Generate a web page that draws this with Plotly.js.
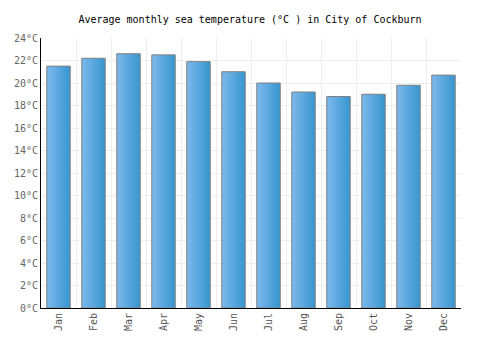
<!DOCTYPE html>
<html><head><meta charset="utf-8">
<script src="https://cdn.plot.ly/plotly-3.0.1.min.js"></script>
<style>html,body{margin:0;padding:0;background:#fff}#c{width:500px;height:350px}</style>
</head><body><div id="c"></div>
<script>
const months = ["Jan","Feb","Mar","Apr","May","Jun","Jul","Aug","Sep","Oct","Nov","Dec"];
const seaTemp = [21.5,22.2,22.6,22.5,21.9,21.0,20.0,19.2,18.8,19.0,19.8,20.7];
const yTicks = [0,2,4,6,8,10,12,14,16,18,20,22,24];
const yTickText = yTicks.map(v => v + "°C");

const BW = 0.67, N = 12, OV = 0.03;
const c0 = [122,184,235], c1 = [58,151,209];
const traces = [];
for (let k = 0; k < N; k++) {
  const t = k / (N - 1);
  const col = "rgb(" + c0.map((a, i) => Math.round(a + (c1[i] - a) * t)).join(",") + ")";
  traces.push({
    type: "bar", x: months, y: seaTemp,
    width: BW / N + (k < N - 1 ? OV : 0), offset: -BW / 2 + k * BW / N,
    marker: {color: col, line: {width: 0}}, hoverinfo: "none"
  });
}
traces.push({
  type: "bar", x: months, y: seaTemp, width: BW, offset: -BW / 2,
  marker: {color: "rgba(0,0,0,0)", line: {color: "#808080", width: 1}}, hoverinfo: "none"
});

Plotly.newPlot("c", traces, {
  width: 500, height: 350, barmode: "overlay",
  margin: {l: 41, r: 39, t: 38, b: 42},
  paper_bgcolor: "#fff", plot_bgcolor: "#fff",
  font: {family: "DejaVu Sans Mono, monospace", size: 10, color: "#666"},
  title: {text: "Average monthly sea temperature (°C ) in City of Cockburn", font: {family: "DejaVu Sans Mono, monospace", size: 10, color: "#000"}, x: 0.5, xanchor: "center", y: 0.945, yanchor: "middle"},
  xaxis: {type: "category", tickson: "boundaries", showgrid: true, gridcolor: "#eeeeee", gridwidth: 1, showline: true, linecolor: "#000", linewidth: 1, ticks: "", tickangle: -90, tickfont: {size: 10, color: "#555"}, range: [-0.5, 11.5], fixedrange: true},
  yaxis: {range: [0, 24], tickvals: yTicks, ticktext: yTickText, showgrid: true, gridcolor: "#eeeeee", gridwidth: 1, showline: true, linecolor: "#000", linewidth: 1, zeroline: false, ticks: "", tickfont: {size: 10, color: "#666"}, fixedrange: true},
  showlegend: false
}, {staticPlot: true});
</script></body></html>
